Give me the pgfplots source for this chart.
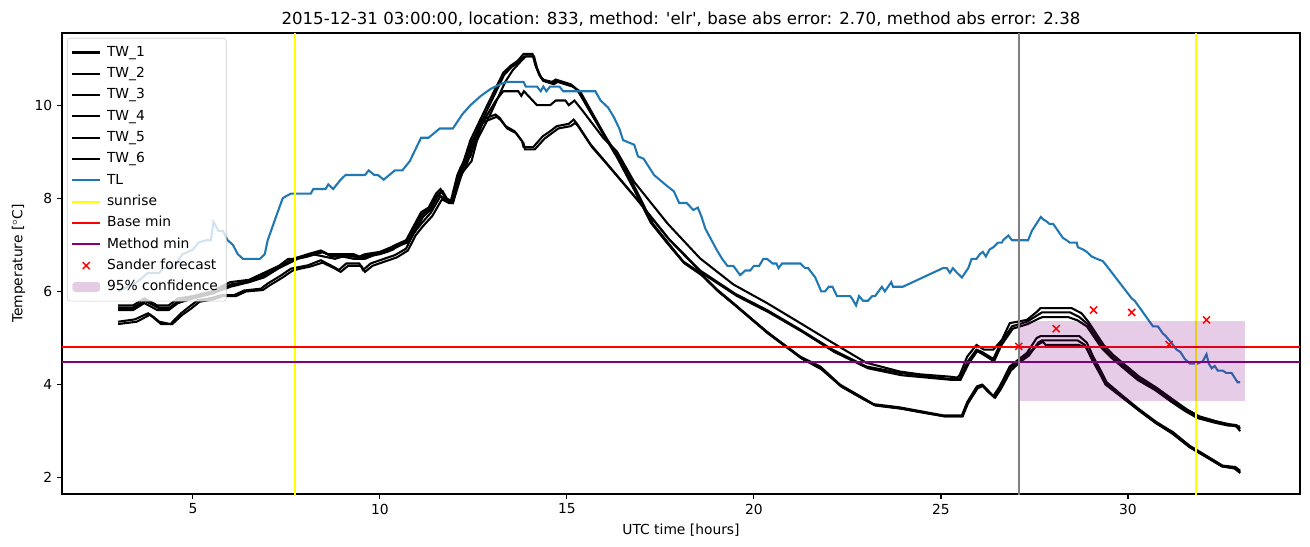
\documentclass[border=0pt]{standalone}
\usepackage{fontspec}
\setmainfont{DejaVu Sans}[Ligatures=TeXOff]
\usepackage{pgfplots}
\pgfplotsset{compat=1.18}
\definecolor{tlblue}{RGB}{31,119,180}
\definecolor{mpurple}{RGB}{128,0,128}
\definecolor{myyellow}{RGB}{255,255,0}
\pgfplotsset{
  linelegend/.style={legend image code/.code={\draw[##1] (0pt,0pt) -- (20pt,0pt); \path[draw=none,fill=none] (0pt,0pt) -- (22pt,0pt);}},
  sanderlegend/.style={legend image code/.code={\draw[##1,/tikz/only marks] plot coordinates {(10pt,0pt)}; \path[draw=none,fill=none] (0pt,0pt) -- (22pt,0pt);}},
  arealegend/.style={legend image code/.code={\fill[##1] (0pt,-3.5pt) rectangle (20pt,3.5pt); \path[draw=none,fill=none] (0pt,0pt) -- (22pt,0pt);}},
}
\begin{document}
\begin{tikzpicture}
\path[use as bounding box] (-0.62in,-0.53in) rectangle (12.48in,4.94in);
\begin{axis}[
  scale only axis, width=12.38in, height=4.61in, at={(0,0)}, anchor=south west,
  xmin=1.5, xmax=34.6, ymin=1.65, ymax=11.55,
  xtick={5,10,15,20,25,30}, ytick={2,4,6,8,10},
  tick pos=left,
  tick align=outside, major tick length=3.5pt,
  tick style={black, line width=0.8pt},
  axis line style={line width=0.8pt},
  /pgf/number format/assume math mode=true,
  ticklabel style={font=\fontsize{10}{12}\selectfont},
  xlabel={UTC time [hours]}, ylabel={Temperature [$^\circ$C]},
  label style={font=\fontsize{10}{12}\selectfont},
  title={2015-12-31 03:00:00, location: 833, method: 'elr', base abs error: 2.70, method abs error: 2.38},
  title style={font=\fontsize{12}{14}\selectfont, yshift=-4.5pt},
  every axis plot/.append style={line width=1.5pt},
  linelegend,
  legend cell align=left,
  legend style={at={(axis description cs:0,1)}, anchor=north west, xshift=3.6pt, yshift=-3.6pt,
    draw=black!20, rounded corners=2pt, fill=white, fill opacity=0.8, text opacity=1,
    font=\fontsize{10}{12}\selectfont, row sep=0pt, inner xsep=3pt, inner ysep=2.6pt,
    nodes={inner xsep=3pt, inner ysep=2.4pt, text height=8pt, text depth=2.6pt}},
]
% TW_1
\addplot[black] coordinates {
(3.0,5.7)(3.4,5.7)(3.7,5.85)(4.05,5.7)(4.35,5.7)(4.6,5.85)(5.0,5.9)(5.5,6.0)(6.0,6.2)(6.5,6.25)
(6.9,6.4)(7.3,6.55)(7.55,6.7)(7.7,6.7)(8.07,6.8)(8.42,6.88)(8.6,6.8)(9.3,6.8)(9.45,6.75)(9.6,6.8)
(10.0,6.85)(10.3,6.95)(10.42,7.0)(10.7,7.1)(10.9,7.4)(11.1,7.7)(11.3,7.8)(11.5,8.1)(11.62,8.2)(11.76,8.0)
(11.9,7.95)(12.07,8.5)(12.24,8.8)(12.42,9.25)(12.87,10.0)(13.3,10.7)(13.5,10.85)(13.68,10.95)(13.84,11.1)(14.08,11.1)
(14.16,10.85)(14.24,10.7)(14.35,10.55)(14.6,10.5)(14.7,10.55)(14.9,10.5)(15.1,10.45)(15.18,10.4)(15.3,10.3)(15.63,9.85)
(15.97,9.4)(16.34,8.9)(16.8,8.2)(17.23,7.5)(17.68,7.05)(18.1,6.65)(18.56,6.4)(19.0,6.05)(19.45,5.75)(20.35,5.13)
(21.24,4.6)(21.77,4.39)(22.3,4.0)(22.84,3.75)(23.2,3.58)(23.9,3.51)(24.44,3.43)(25.05,3.34)(25.56,3.34)(25.7,3.62)
(25.96,3.96)(26.1,4.0)(26.23,3.9)(26.4,3.75)(26.57,3.96)(26.84,4.39)(27.06,4.53)(27.3,4.68)(27.56,5.0)(27.66,5.04)
(28.7,5.04)(28.9,4.9)(29.07,4.6)(29.3,4.26)(29.43,4.05)(29.87,3.75)(30.3,3.47)(30.77,3.19)(31.2,2.98)(31.66,2.68)
(32.1,2.47)(32.53,2.26)(32.87,2.23)(33.0,2.15)};
\addlegendentry{TW\_1}
% TW_2
\addplot[black] coordinates {
(3.0,5.6)(3.4,5.6)(3.7,5.75)(4.05,5.6)(4.35,5.6)(4.6,5.75)(5.0,5.85)(5.5,5.95)(6.0,6.1)(6.5,6.2)
(6.9,6.3)(7.3,6.5)(7.55,6.6)(7.8,6.7)(8.07,6.75)(8.5,6.85)(8.7,6.75)(9.3,6.75)(9.5,6.7)(9.65,6.75)
(10.0,6.8)(10.35,6.9)(10.5,7.0)(10.75,7.05)(10.95,7.3)(11.15,7.6)(11.35,7.75)(11.55,8.05)(11.68,8.15)(11.82,7.95)
(11.95,7.9)(12.12,8.4)(12.3,8.7)(12.5,9.1)(12.95,9.8)(13.35,10.5)(13.55,10.75)(13.72,10.9)(13.9,11.05)(14.12,11.05)
(14.2,10.8)(14.3,10.6)(14.45,10.5)(14.65,10.45)(14.75,10.5)(14.95,10.45)(15.15,10.4)(15.35,10.3)(15.7,9.8)(16.05,9.3)
(16.45,8.8)(16.9,8.1)(17.3,7.45)(17.75,7.0)(18.15,6.6)(18.6,6.35)(19.05,6.0)(19.5,5.7)(20.4,5.1)(21.3,4.55)
(21.8,4.33)(22.35,3.95)(22.9,3.7)(23.25,3.55)(23.95,3.48)(24.5,3.4)(25.1,3.32)(25.58,3.32)(25.72,3.6)(25.98,3.92)
(26.12,3.97)(26.25,3.85)(26.45,3.72)(26.6,3.9)(26.87,4.3)(27.1,4.48)(27.35,4.62)(27.6,4.9)(27.7,4.95)(28.65,4.95)
(28.85,4.85)(29.03,4.55)(29.27,4.2)(29.4,4.0)(29.85,3.72)(30.28,3.45)(30.75,3.17)(31.18,2.95)(31.64,2.66)(32.08,2.45)
(32.5,2.25)(32.85,2.2)(33.0,2.1)};
\addlegendentry{TW\_2}
% TW_3
\addplot[black] coordinates {
(3.0,5.65)(3.4,5.65)(3.72,5.8)(4.07,5.65)(4.37,5.65)(4.62,5.8)(5.02,5.88)(5.52,5.98)(6.02,6.15)(6.52,6.22)
(6.92,6.38)(7.32,6.52)(7.57,6.65)(7.75,6.72)(8.1,6.78)(8.45,6.85)(8.65,6.78)(9.3,6.78)(9.47,6.72)(9.62,6.78)
(10.02,6.82)(10.32,6.92)(10.45,6.98)(10.72,7.08)(10.92,7.35)(11.12,7.65)(11.32,7.78)(11.52,8.05)(11.65,8.15)(11.78,7.97)
(11.92,7.92)(12.1,8.45)(12.27,8.75)(12.45,9.2)(12.9,9.95)(13.32,10.65)(13.52,10.82)(13.7,10.92)(13.87,11.05)(14.1,11.05)
(14.18,10.82)(14.26,10.65)(14.37,10.52)(14.62,10.48)(14.72,10.52)(14.92,10.48)(15.12,10.42)(15.2,10.38)(15.32,10.28)(15.65,9.82)
(15.99,9.35)(16.36,8.85)(16.82,8.15)(17.25,7.47)(17.7,7.02)(18.12,6.62)(18.58,6.38)(19.02,6.02)(19.47,5.72)(20.37,5.1)
(21.26,4.57)(21.79,4.36)(22.32,3.97)(22.86,3.72)(23.22,3.56)(23.92,3.49)(24.46,3.41)(25.07,3.32)(25.57,3.32)(25.71,3.58)
(25.97,3.93)(26.11,3.98)(26.24,3.87)(26.42,3.73)(26.58,3.92)(26.85,4.35)(27.08,4.5)(27.32,4.65)(27.58,4.85)(27.72,4.92)
(27.8,4.85)(28.68,4.85)(28.88,4.8)(29.05,4.55)(29.28,4.22)(29.42,4.02)(29.86,3.73)(30.29,3.45)(30.76,3.17)(31.19,2.96)
(31.65,2.66)(32.09,2.45)(32.52,2.24)(32.86,2.2)(33.0,2.12)};
\addlegendentry{TW\_3}
% TW_4
\addplot[black] coordinates {
(3.0,5.65)(3.4,5.65)(3.75,5.8)(4.1,5.65)(4.4,5.65)(4.65,5.8)(5.05,5.9)(5.5,5.95)(6.05,6.15)(6.5,6.2)
(6.95,6.35)(7.35,6.55)(7.6,6.65)(7.9,6.75)(8.2,6.8)(8.5,6.75)(8.8,6.7)(9.0,6.75)(9.3,6.7)(9.6,6.7)
(9.9,6.8)(10.2,6.85)(10.45,6.95)(10.7,7.05)(10.92,7.35)(11.12,7.65)(11.3,7.75)(11.52,8.05)(11.65,8.15)(11.78,7.98)
(11.92,7.95)(12.1,8.45)(12.27,8.75)(12.45,9.1)(12.8,9.7)(13.1,10.1)(13.3,10.3)(13.7,10.3)(13.78,10.2)(13.85,10.3)
(14.2,10.0)(14.55,10.0)(14.7,10.1)(14.96,10.1)(15.05,10.0)(15.2,10.1)(15.4,9.9)(15.97,9.3)(16.34,9.0)(16.8,8.35)
(17.7,7.45)(18.56,6.71)(19.45,6.15)(20.35,5.75)(21.24,5.32)(22.1,4.9)(23.0,4.47)(23.9,4.28)(24.44,4.22)(25.24,4.17)
(25.43,4.15)(25.5,4.2)(25.7,4.6)(25.95,4.85)(26.05,4.8)(26.15,4.75)(26.4,4.75)(26.63,4.96)(26.84,5.32)(27.05,5.35)
(27.3,5.39)(27.56,5.56)(27.66,5.64)(28.5,5.64)(28.76,5.53)(28.94,5.35)(29.17,5.07)(29.35,4.85)(29.6,4.64)(29.97,4.39)
(30.3,4.17)(30.77,3.93)(31.2,3.68)(31.57,3.47)(31.9,3.32)(32.37,3.21)(32.7,3.15)(32.9,3.13)(33.0,3.05)};
\addlegendentry{TW\_4}
% TW_5
\addplot[black] coordinates {
(3.0,5.35)(3.45,5.4)(3.8,5.53)(3.95,5.45)(4.1,5.35)(4.4,5.3)(4.68,5.53)(4.9,5.67)(5.13,5.81)(5.5,5.86)
(5.75,5.92)(6.1,5.92)(6.37,6.02)(6.82,6.06)(7.0,6.17)(7.35,6.34)(7.62,6.49)(7.88,6.53)(8.07,6.56)(8.42,6.67)
(8.78,6.52)(8.9,6.46)(9.1,6.6)(9.45,6.6)(9.55,6.46)(9.75,6.6)(10.0,6.67)(10.4,6.78)(10.7,6.92)(10.9,7.25)
(11.1,7.45)(11.36,7.69)(11.62,8.05)(11.8,7.94)(11.9,7.94)(12.15,8.65)(12.42,8.9)(12.69,9.69)(12.87,9.73)(13.09,9.8)
(13.2,9.73)(13.36,9.55)(13.6,9.44)(13.8,9.23)(13.84,9.1)(14.1,9.1)(14.35,9.33)(14.55,9.44)(14.73,9.55)(15.05,9.6)
(15.18,9.69)(15.27,9.6)(15.63,9.16)(15.97,8.84)(16.8,8.05)(17.7,7.15)(18.56,6.45)(19.5,5.95)(20.35,5.6)(21.24,5.18)
(22.1,4.75)(23.0,4.39)(23.9,4.25)(25.24,4.12)(25.5,4.12)(25.72,4.5)(25.95,4.75)(26.1,4.7)(26.2,4.65)(26.4,4.55)
(26.6,4.9)(26.9,5.25)(27.1,5.3)(27.3,5.35)(27.6,5.5)(27.7,5.55)(28.45,5.55)(28.7,5.45)(28.92,5.3)(29.15,5.02)
(29.33,4.8)(29.58,4.6)(29.95,4.35)(30.28,4.13)(30.75,3.9)(31.18,3.65)(31.55,3.45)(31.88,3.3)(32.35,3.2)(32.7,3.13)
(32.9,3.1)(33.0,3.1)};
\addlegendentry{TW\_5}
% TW_6
\addplot[black] coordinates {
(3.0,5.3)(3.5,5.35)(3.85,5.5)(4.0,5.4)(4.15,5.3)(4.45,5.3)(4.72,5.5)(4.95,5.63)(5.18,5.78)(5.55,5.83)
(5.8,5.9)(6.15,5.9)(6.42,6.0)(6.87,6.03)(7.05,6.13)(7.4,6.3)(7.67,6.45)(7.93,6.5)(8.12,6.53)(8.47,6.62)
(8.82,6.48)(8.95,6.42)(9.15,6.55)(9.5,6.55)(9.6,6.42)(9.8,6.55)(10.05,6.62)(10.45,6.73)(10.75,6.88)(10.95,7.2)
(11.15,7.4)(11.4,7.62)(11.66,7.98)(11.84,7.9)(11.95,7.9)(12.2,8.55)(12.45,8.8)(12.72,9.62)(12.9,9.68)(13.12,9.75)
(13.23,9.68)(13.4,9.5)(13.64,9.4)(13.84,9.18)(13.88,9.05)(14.14,9.05)(14.4,9.28)(14.6,9.4)(14.77,9.5)(15.1,9.55)
(15.22,9.62)(15.3,9.55)(15.67,9.1)(16.0,8.8)(16.85,8.0)(17.75,7.1)(18.6,6.4)(19.55,5.9)(20.4,5.55)(21.3,5.13)
(22.15,4.7)(23.05,4.35)(23.95,4.2)(25.3,4.1)(25.52,4.1)(25.74,4.45)(25.97,4.72)(26.12,4.65)(26.22,4.6)(26.42,4.5)
(26.62,4.85)(26.92,5.2)(27.12,5.25)(27.32,5.3)(27.62,5.42)(27.72,5.45)(28.4,5.45)(28.65,5.38)(28.9,5.25)(29.13,4.98)
(29.3,4.78)(29.55,4.58)(29.93,4.32)(30.26,4.1)(30.73,3.88)(31.16,3.63)(31.53,3.43)(31.86,3.28)(32.33,3.18)(32.68,3.12)
(32.88,3.12)(33.0,3.0)};
\addlegendentry{TW\_6}
% TL
\addplot[tlblue] coordinates {
(3.0,6.0)(3.25,6.1)(3.5,6.2)(3.65,6.3)(3.8,6.4)(4.1,6.4)(4.2,6.5)(4.45,6.5)(4.55,6.6)(4.72,6.8)
(4.87,6.85)(5.0,6.9)(5.15,7.05)(5.35,7.1)(5.48,7.1)(5.55,7.5)(5.68,7.3)(5.8,7.3)(5.93,7.1)(6.07,7.0)
(6.2,6.8)(6.34,6.7)(6.79,6.7)(6.92,6.8)(7.0,7.1)(7.22,7.6)(7.4,8.0)(7.5,8.05)(7.62,8.1)(8.15,8.1)
(8.22,8.2)(8.55,8.2)(8.62,8.3)(8.75,8.2)(8.95,8.4)(9.08,8.5)(9.6,8.5)(9.7,8.6)(9.85,8.5)(9.95,8.5)
(10.1,8.4)(10.25,8.5)(10.4,8.6)(10.6,8.6)(10.8,8.8)(11.1,9.3)(11.3,9.3)(11.45,9.4)(11.6,9.5)(11.95,9.5)
(12.2,9.8)(12.42,10.0)(12.7,10.2)(12.96,10.35)(13.22,10.45)(13.4,10.5)(13.84,10.5)(13.9,10.4)(14.2,10.4)(14.3,10.3)
(14.37,10.4)(14.45,10.3)(14.55,10.4)(14.8,10.4)(14.9,10.3)(15.76,10.3)(15.9,10.1)(16.1,9.95)(16.25,9.75)(16.4,9.5)
(16.5,9.25)(16.8,9.15)(16.9,8.9)(17.05,8.85)(17.33,8.5)(17.55,8.35)(17.7,8.25)(17.86,8.15)(18.0,7.9)(18.2,7.9)
(18.38,7.75)(18.5,7.8)(18.6,7.6)(18.7,7.35)(18.8,7.2)(18.9,7.05)(19.0,6.9)(19.15,6.7)(19.29,6.55)(19.45,6.55)
(19.63,6.35)(19.77,6.45)(19.9,6.45)(20.0,6.55)(20.14,6.55)(20.25,6.7)(20.35,6.7)(20.5,6.6)(20.6,6.6)(20.66,6.5)
(20.75,6.6)(21.24,6.6)(21.37,6.5)(21.45,6.5)(21.64,6.3)(21.8,6.0)(21.9,6.0)(22.0,6.1)(22.1,6.1)(22.22,5.9)
(22.57,5.9)(22.62,5.85)(22.73,5.7)(22.81,5.9)(22.92,5.8)(23.05,5.8)(23.16,5.9)(23.24,5.9)(23.42,6.1)(23.5,6.0)
(23.67,6.2)(23.72,6.1)(23.98,6.1)(25.05,6.5)(25.16,6.5)(25.24,6.4)(25.32,6.5)(25.43,6.4)(25.56,6.3)(25.73,6.5)
(25.82,6.7)(25.95,6.7)(26.04,6.8)(26.12,6.85)(26.2,6.75)(26.3,6.9)(26.4,6.95)(26.53,7.05)(26.63,7.05)(26.66,7.1)
(26.8,7.2)(26.9,7.1)(27.33,7.1)(27.43,7.3)(27.67,7.6)(27.73,7.55)(27.83,7.5)(27.9,7.45)(28.0,7.45)(28.13,7.3)
(28.26,7.15)(28.36,7.1)(28.44,7.05)(28.63,7.05)(28.66,6.95)(28.8,6.9)(28.9,6.85)(29.03,6.75)(29.17,6.7)(29.33,6.65)
(29.43,6.55)(30.1,5.85)(30.18,5.8)(30.58,5.35)(30.67,5.25)(30.8,5.25)(30.93,5.1)(31.0,5.05)(31.16,4.9)(31.3,4.75)
(31.4,4.7)(31.52,4.55)(31.66,4.45)(31.86,4.45)(32.0,4.5)(32.1,4.65)(32.16,4.45)(32.24,4.35)(32.32,4.4)(32.4,4.3)
(32.53,4.3)(32.63,4.25)(32.77,4.25)(32.93,4.05)(33.0,4.05)};
\addlegendentry{TL}
% sunrise
\addplot[myyellow] coordinates {(7.72,1.0)(7.72,12.0)};
\addlegendentry{sunrise}
\addplot[myyellow, forget plot] coordinates {(31.81,1.0)(31.81,12.0)};
% base / method min
\addplot[red] coordinates {(0,4.8)(40,4.8)};
\addlegendentry{Base min}
\addplot[mpurple] coordinates {(0,4.48)(40,4.48)};
\addlegendentry{Method min}
% Sander forecast
\addplot[red, only marks, mark=x, mark size=3.6pt, line width=1.1pt, sanderlegend]
  coordinates {(27.08,4.82)(28.08,5.2)(29.08,5.6)(30.1,5.55)(31.1,4.86)(32.1,5.39)};
\addlegendentry{Sander forecast}
% confidence band
\addplot[draw=none, fill=mpurple, fill opacity=0.2, arealegend]
  coordinates {(27.08,3.64)(33.12,3.64)(33.12,5.37)(27.08,5.37)} -- cycle;
\addlegendentry{95\% confidence}
% forecast time
\addplot[gray, forget plot] coordinates {(27.08,1.0)(27.08,12.0)};
\end{axis}
\end{tikzpicture}
\end{document}
